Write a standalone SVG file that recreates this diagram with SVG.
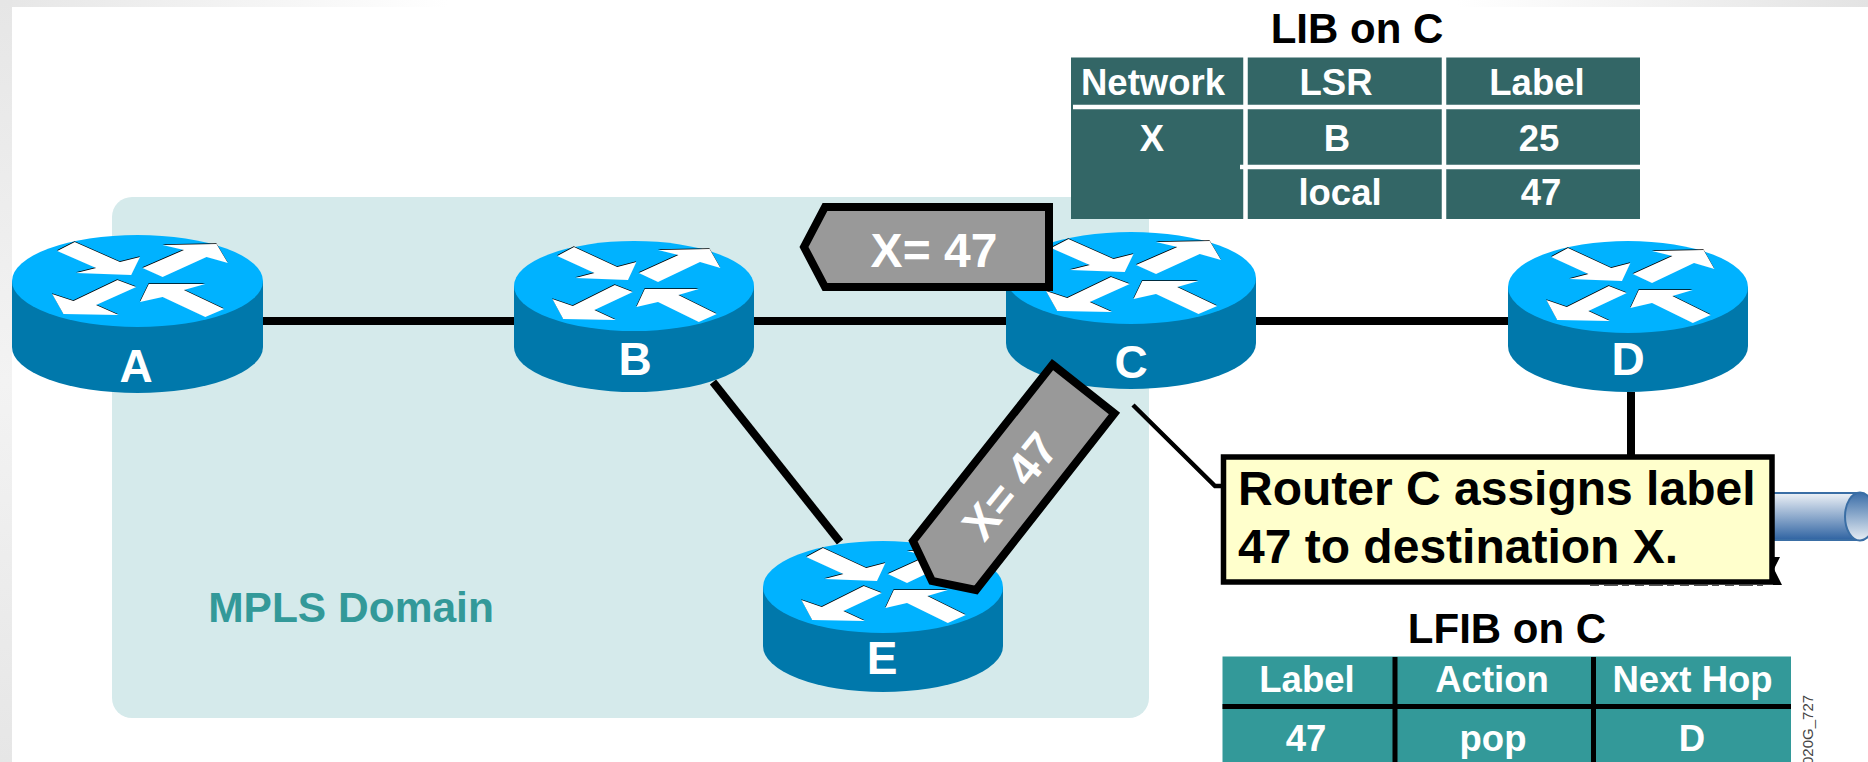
<svg xmlns="http://www.w3.org/2000/svg" width="1868" height="762" viewBox="0 0 1868 762">
<style>
text{font-family:"Liberation Sans",Arial,sans-serif;font-weight:bold}
.top{fill:#00b2ff}.body{fill:#0078ab}
.rl{fill:#fff;font-size:46px;text-anchor:middle}
.tt{font-size:42px;fill:#000;text-anchor:middle}
.c{fill:#fff;font-size:36.5px;text-anchor:middle}
.tag{fill:#999;stroke:#000;stroke-width:8;stroke-linejoin:miter}
.tagt{fill:#fff;font-size:48px;text-anchor:middle}
.lk{stroke:#000;stroke-width:8;fill:none}
.note{fill:#000;font-size:48px}
</style>
<defs>
<linearGradient id="bt" x1="0" x2="1" y1="0" y2="0"><stop offset="0" stop-color="#e6e6e6"/><stop offset=".24" stop-color="#fff"/><stop offset=".78" stop-color="#fff"/><stop offset="1" stop-color="#e3e3e3"/></linearGradient>
<linearGradient id="bl" x1="0" x2="0" y1="0" y2="1"><stop offset="0" stop-color="#e6e6e6"/><stop offset=".5" stop-color="#f3f3f3"/><stop offset="1" stop-color="#e6e6e6"/></linearGradient>
<linearGradient id="pipe" x1="0" x2="0" y1="0" y2="1"><stop offset="0" stop-color="#eef2f7"/><stop offset="1" stop-color="#2f63a2"/></linearGradient>
<linearGradient id="pipeEnd" x1="0" x2="0" y1="0" y2="1"><stop offset="0" stop-color="#3a6da8"/><stop offset="1" stop-color="#e8eef4"/></linearGradient>
<g id="ar">
<path fill="#000" transform="translate(-.2,-.8)" d="M-64-30-50-39-14-19 2-24-5-6-49-8-33-13ZM4-13 37-31 20-36 63-37 72-18 55-24 20-4ZM-16-1-1 6-33 24-15 34-59 33-68 13-51 20ZM2 21 9 3 54 3 37 9 69 28 54 36 20 16Z"/>
<path fill="#fff" d="M-64-30-50-39-14-19 2-24-5-6-49-8-33-13ZM4-13 37-31 20-36 63-37 72-18 55-24 20-4ZM-16-1-1 6-33 24-15 34-59 33-68 13-51 20ZM2 21 9 3 54 3 37 9 69 28 54 36 20 16Z"/>
</g>
</defs>
<rect width="1868" height="762" fill="#fff"/>
<rect width="1868" height="7" fill="url(#bt)"/>
<rect width="12" height="762" fill="url(#bl)"/>
<rect id="domain" x="112" y="197" width="1037" height="521" rx="20" fill="#d5eaeb"/>
<text x="351" y="622" font-size="42.500" fill="#339999" text-anchor="middle">MPLS Domain</text>
<g id="connectors">
<path class="lk" d="M263 321H1508"/>
<path class="lk" d="M713 382 840 542"/>
<path class="lk" d="M1631 392V456"/>
<path d="M1133 405 1215 486H1222" fill="none" stroke="#000" stroke-width="4.500"/>
</g>
<g id="cloud">
<path d="M1773 493H1860V540H1773Z" fill="url(#pipe)" stroke="#3a6ea5" stroke-width="2"/>
<ellipse cx="1860" cy="516.500" rx="15" ry="24" fill="url(#pipeEnd)" stroke="#3a6ea5" stroke-width="2"/>
<path d="M1773 557 1780 557 1774 569 1782 585 1773 585Z" fill="#000"/>
<path d="M1590 585.500H1763" stroke="#555" stroke-width="1" stroke-dasharray="9 5 14 4 7 6"/>
</g>
<g id="router-A">
<path class="body" d="M12 281V347A125.500 46 0 0 0 263 347V281Z"/><ellipse class="top" cx="137.500" cy="281" rx="125.500" ry="46"/>
<use href="#ar" transform="translate(137.500,281) scale(1.255,1)"/><text class="rl" x="136" y="382">A</text>
</g>
<g id="router-B">
<path class="body" d="M514 286V347A120 45 0 0 0 754 347V286Z"/><ellipse class="top" cx="634" cy="286" rx="120" ry="45"/>
<use href="#ar" transform="translate(634,286) scale(1.2,1)"/><text class="rl" x="635" y="375">B</text>
</g>
<g id="router-C">
<path class="body" d="M1006 278V343A125 46 0 0 0 1256 343V278Z"/><ellipse class="top" cx="1131" cy="278" rx="125" ry="46"/>
<use href="#ar" transform="translate(1131,278) scale(1.25,1)"/><text class="rl" x="1131" y="378">C</text>
</g>
<g id="router-D">
<path class="body" d="M1508 287V346A120 46 0 0 0 1748 346V287Z"/><ellipse class="top" cx="1628" cy="287" rx="120" ry="46"/>
<use href="#ar" transform="translate(1628,287) scale(1.2,1)"/><text class="rl" x="1628" y="375">D</text>
</g>
<g id="router-E">
<path class="body" d="M763 587V646A120 46 0 0 0 1003 646V587Z"/><ellipse class="top" cx="883" cy="587" rx="120" ry="46"/>
<use href="#ar" transform="translate(883,587) scale(1.2,1)"/><text class="rl" x="882" y="674">E</text>
</g>
<g id="tag-horizontal">
<path class="tag" d="M1049 207H825L804 247 825 287H1049Z"/>
<text class="tagt" x="934" y="267">X= 47</text>
</g>
<g id="tag-diagonal">
<path class="tag" d="M1052.500 364.500 1114.500 413.500 976 590 932 581 913 541Z"/>
<text class="tagt" style="font-size:46px" transform="translate(1010,486) rotate(-51)" y="16">X= 47</text>
</g>
<g id="lib-table">
<text class="tt" x="1357" y="43">LIB on C</text>
<rect x="1071" y="57.500" width="569" height="161.500" fill="#336666"/>
<path d="M1245.500 57V219M1444 57V219" stroke="#fff" stroke-width="4.500"/>
<path d="M1073 107H1640M1240 167H1640" stroke="#fff" stroke-width="4.500"/>
<text class="c" x="1153" y="95">Network</text><text class="c" x="1336" y="95">LSR</text><text class="c" x="1537" y="95">Label</text>
<text class="c" x="1152" y="150.500">X</text><text class="c" x="1337" y="150.500">B</text><text class="c" x="1539" y="150.500">25</text>
<text class="c" x="1340" y="205">local</text><text class="c" x="1541" y="205">47</text>
</g>
<g id="note">
<rect x="1223.500" y="457" width="548.500" height="125" fill="#ffffcc" stroke="#000" stroke-width="5.500"/>
<text class="note" x="1238" y="505">Router C assigns label</text>
<text class="note" x="1238" y="563">47 to destination X.</text>
</g>
<g id="lfib-table">
<text class="tt" x="1507" y="643">LFIB on C</text>
<rect x="1222.500" y="656.500" width="568.500" height="105.500" fill="#339999"/>
<path d="M1395 657V762M1593.500 657V762" stroke="#000" stroke-width="5"/>
<path d="M1222.500 706.500H1791" stroke="#000" stroke-width="5"/>
<text class="c" x="1307" y="692">Label</text><text class="c" x="1492" y="692">Action</text><text class="c" x="1692.500" y="692">Next Hop</text>
<text class="c" x="1306" y="750.500">47</text><text class="c" x="1493" y="750.500">pop</text><text class="c" x="1692" y="750.500">D</text>
</g>
<text transform="translate(1813,765) rotate(-90)" font-size="15" style="font-weight:normal" fill="#444">020G_727</text>
</svg>
